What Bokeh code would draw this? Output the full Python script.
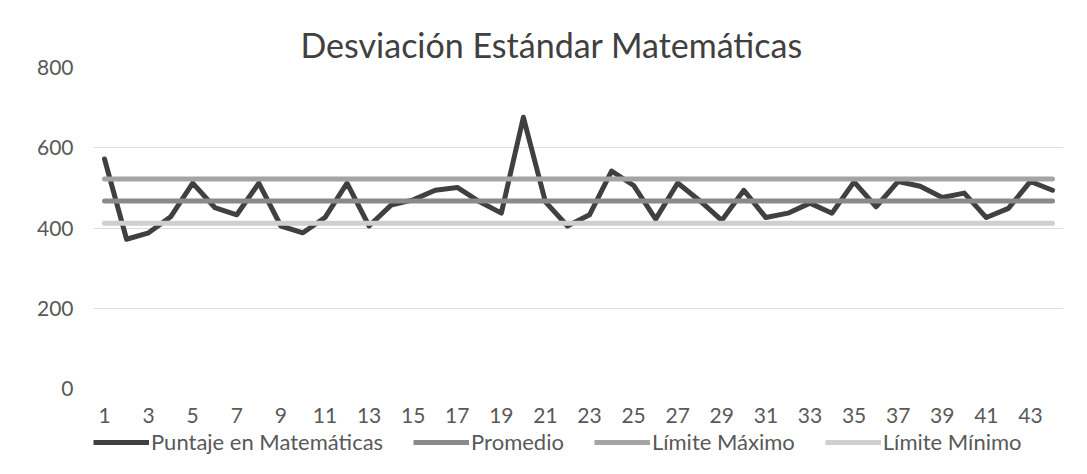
from bokeh.plotting import figure
from bokeh.models import FixedTicker, Legend, LegendItem, Range1d
from bokeh.layouts import column
from bokeh.embed import file_html
from bokeh.resources import INLINE

# ---- data ----
estudiantes = list(range(1, 45))
puntaje = [572, 372, 388, 428, 512, 451, 433, 512, 405, 388,
           426, 512, 405, 457, 470, 494, 501, 466, 437, 676,
           465, 405, 433, 542, 506, 422, 512, 468, 419, 494,
           426, 437, 462, 437, 515, 453, 516, 504, 476, 487,
           426, 449, 516, 494]
promedio = 467
limite_max = 522
limite_min = 412
y_ticks = [0, 200, 400, 600, 800]
x_ticks = estudiantes[::2]
titulo = "Desviación Estándar Matemáticas"
nombres = ["Puntaje en Matemáticas", "Promedio", "Límite Máximo", "Límite Mínimo"]

FONT = "Lato"
TXT = "#595959"
estilos = [dict(line_color="#404040", line_width=5),
           dict(line_color="#8a8a8a", line_width=5),
           dict(line_color="#a4a4a4", line_width=5),
           dict(line_color="#cfcfcf", line_width=5)]
series = [puntaje,
          [promedio] * len(estudiantes),
          [limite_max] * len(estudiantes),
          [limite_min] * len(estudiantes)]

# ---- main chart ----
p = figure(width=1071, height=428, output_backend="svg", toolbar_location=None,
           x_range=Range1d(0.5, 44.5), y_range=Range1d(0, 800),
           min_border_left=93, min_border_right=8, min_border_top=67,
           min_border_bottom=40)

p.title.text = titulo
p.title.text_font = FONT
p.title.text_font_size = "34px"
p.title.text_font_style = "normal"
p.title.text_color = "#404040"
p.title.align = "left"
p.title.offset = 207
p.title.standoff = 5

p.outline_line_color = None
p.background_fill_color = "white"
p.border_fill_color = "white"

for ys, e in zip(series, estilos):
    p.line(estudiantes, ys, line_join="round", line_cap="round", **e)

p.xgrid.grid_line_color = None
p.ygrid.grid_line_color = "#dedede"
p.ygrid.grid_line_width = 1
p.ygrid.ticker = FixedTicker(ticks=y_ticks)

for ax in (p.xaxis[0], p.yaxis[0]):
    ax.axis_line_color = None
    ax.major_tick_line_color = None
    ax.minor_tick_line_color = None
    ax.major_label_text_font = FONT
    ax.major_label_text_font_size = "21px"
    ax.major_label_text_color = TXT
p.xaxis[0].ticker = FixedTicker(ticks=x_ticks)
p.xaxis[0].major_label_standoff = 13
p.yaxis[0].ticker = FixedTicker(ticks=y_ticks)
p.yaxis[0].major_label_standoff = 14

# ---- legend strip (series drawn outside its visible range, only swatches show) ----
q = figure(width=1071, height=30, output_backend="svg", toolbar_location=None,
           x_range=p.x_range, y_range=Range1d(0, 1),
           x_axis_location=None, y_axis_location=None,
           min_border_left=90, min_border_right=8, min_border_top=0,
           min_border_bottom=0)
q.outline_line_color = None
q.grid.grid_line_color = None
q.background_fill_color = "white"
q.border_fill_color = "white"

muestras = [q.line(estudiantes, ys, **e) for ys, e in zip(series, estilos)]
legend = Legend(
    items=[LegendItem(label=n, renderers=[r]) for n, r in zip(nombres, muestras)],
    orientation="horizontal", location="top_left",
    glyph_width=56, glyph_height=18, label_standoff=2, spacing=30,
    padding=0, margin=0, border_line_color=None, background_fill_alpha=0,
    label_text_font=FONT, label_text_font_size="22px", label_text_color=TXT,
)
q.add_layout(legend, "center")

layout = column(p, q, spacing=0)
open("out.html", "w").write(file_html(layout, INLINE))
